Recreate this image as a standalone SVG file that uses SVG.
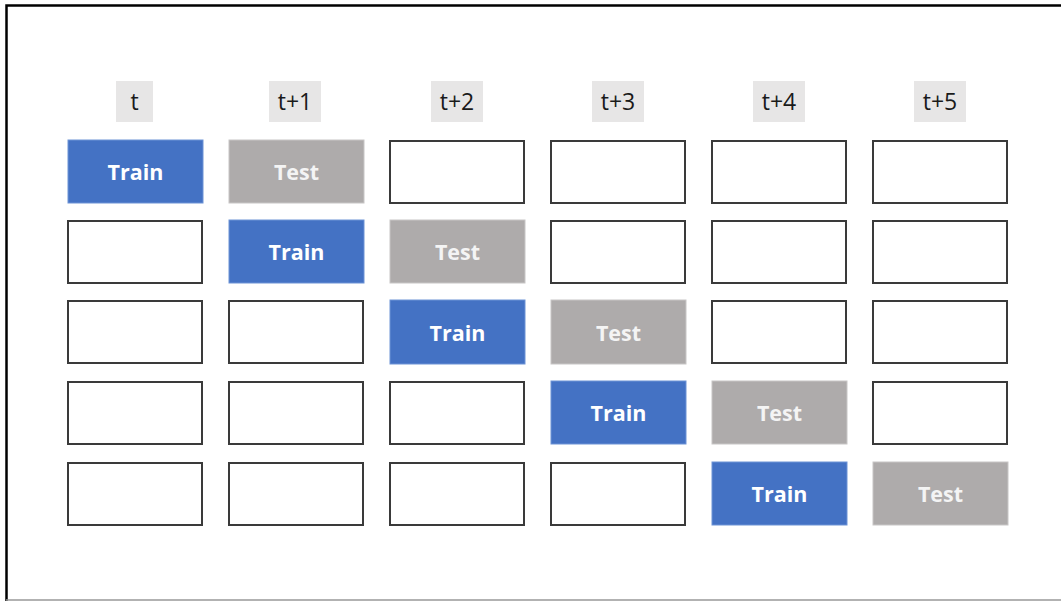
<svg xmlns="http://www.w3.org/2000/svg" width="1061" height="601" viewBox="0 0 1061 601">
  <style>
    .hdr { fill: #E7E6E6; }
    .hdr-t { font-family: "Open Sans", "Noto Sans", "Liberation Sans", sans-serif; font-size: 23px; fill: #1a1a1a; text-anchor: middle; }
    .empty { fill: #FFFFFF; stroke: #3a3a3a; stroke-width: 2; }
    .train { fill: #4472C4; stroke: #6d93d6; stroke-width: 1; }
    .test { fill: #AEABAB; stroke: #c8c6c6; stroke-width: 1; }
    .lbl { font-family: "Open Sans", "Noto Sans", "Liberation Sans", sans-serif; font-size: 21.5px; font-weight: bold; fill: #FFFFFF; text-anchor: middle; }
    .lbl-test { fill: #F4F4F4; }
  </style>
  <rect x="0" y="0" width="1061" height="601" fill="#FFFFFF"/>
  <!-- frame -->
  <path d="M6.5,601 V5.5 H1061" fill="none" stroke="#000" stroke-width="2.5"/>
  <line x1="6" y1="600" x2="1061" y2="600" stroke="#999" stroke-width="1.5"/>

  <!-- column headers -->
  <g id="headers">
    <g id="h0"><rect class="hdr" x="116" y="81" width="37" height="41"/><text class="hdr-t" x="134.5" y="109.5">t</text></g>
    <g id="h1"><rect class="hdr" x="269" y="81" width="52" height="41"/><text class="hdr-t" x="295" y="109.5">t+1</text></g>
    <g id="h2"><rect class="hdr" x="431" y="81" width="52" height="41"/><text class="hdr-t" x="457" y="109.5">t+2</text></g>
    <g id="h3"><rect class="hdr" x="592" y="81" width="52" height="41"/><text class="hdr-t" x="618" y="109.5">t+3</text></g>
    <g id="h4"><rect class="hdr" x="753" y="81" width="52" height="41"/><text class="hdr-t" x="779" y="109.5">t+4</text></g>
    <g id="h5"><rect class="hdr" x="914" y="81" width="52" height="41"/><text class="hdr-t" x="940" y="109.5">t+5</text></g>
  </g>

  <!-- row 1 -->
  <g id="r1">
    <g id="r1c0"><rect class="train" x="68" y="140" width="135" height="63"/><text class="lbl" x="135.5" y="180">Train</text></g>
    <g id="r1c1"><rect class="test" x="229" y="140" width="135" height="63"/><text class="lbl lbl-test" x="296.5" y="180">Test</text></g>
    <rect id="r1c2" class="empty" x="390" y="141" width="134" height="62"/>
    <rect id="r1c3" class="empty" x="551" y="141" width="134" height="62"/>
    <rect id="r1c4" class="empty" x="712" y="141" width="134" height="62"/>
    <rect id="r1c5" class="empty" x="873" y="141" width="134" height="62"/>
  </g>
  <!-- row 2 -->
  <g id="r2">
    <rect id="r2c0" class="empty" x="68" y="221" width="134" height="62"/>
    <g id="r2c1"><rect class="train" x="229" y="220" width="135" height="63"/><text class="lbl" x="296.5" y="260">Train</text></g>
    <g id="r2c2"><rect class="test" x="390" y="220" width="135" height="63"/><text class="lbl lbl-test" x="457.5" y="260">Test</text></g>
    <rect id="r2c3" class="empty" x="551" y="221" width="134" height="62"/>
    <rect id="r2c4" class="empty" x="712" y="221" width="134" height="62"/>
    <rect id="r2c5" class="empty" x="873" y="221" width="134" height="62"/>
  </g>
  <!-- row 3 -->
  <g id="r3">
    <rect id="r3c0" class="empty" x="68" y="301" width="134" height="62"/>
    <rect id="r3c1" class="empty" x="229" y="301" width="134" height="62"/>
    <g id="r3c2"><rect class="train" x="390" y="300" width="135" height="64"/><text class="lbl" x="457.5" y="340.5">Train</text></g>
    <g id="r3c3"><rect class="test" x="551" y="300" width="135" height="64"/><text class="lbl lbl-test" x="618.5" y="340.5">Test</text></g>
    <rect id="r3c4" class="empty" x="712" y="301" width="134" height="62"/>
    <rect id="r3c5" class="empty" x="873" y="301" width="134" height="62"/>
  </g>
  <!-- row 4 -->
  <g id="r4">
    <rect id="r4c0" class="empty" x="68" y="382" width="134" height="62"/>
    <rect id="r4c1" class="empty" x="229" y="382" width="134" height="62"/>
    <rect id="r4c2" class="empty" x="390" y="382" width="134" height="62"/>
    <g id="r4c3"><rect class="train" x="551" y="381" width="135" height="63"/><text class="lbl" x="618.5" y="421">Train</text></g>
    <g id="r4c4"><rect class="test" x="712" y="381" width="135" height="63"/><text class="lbl lbl-test" x="779.5" y="421">Test</text></g>
    <rect id="r4c5" class="empty" x="873" y="382" width="134" height="62"/>
  </g>
  <!-- row 5 -->
  <g id="r5">
    <rect id="r5c0" class="empty" x="68" y="463" width="134" height="62"/>
    <rect id="r5c1" class="empty" x="229" y="463" width="134" height="62"/>
    <rect id="r5c2" class="empty" x="390" y="463" width="134" height="62"/>
    <rect id="r5c3" class="empty" x="551" y="463" width="134" height="62"/>
    <g id="r5c4"><rect class="train" x="712" y="462" width="135" height="63"/><text class="lbl" x="779.5" y="501.5">Train</text></g>
    <g id="r5c5"><rect class="test" x="873" y="462" width="135" height="63"/><text class="lbl lbl-test" x="940.5" y="501.5">Test</text></g>
  </g>
  <g id="connectors"/>
</svg>
